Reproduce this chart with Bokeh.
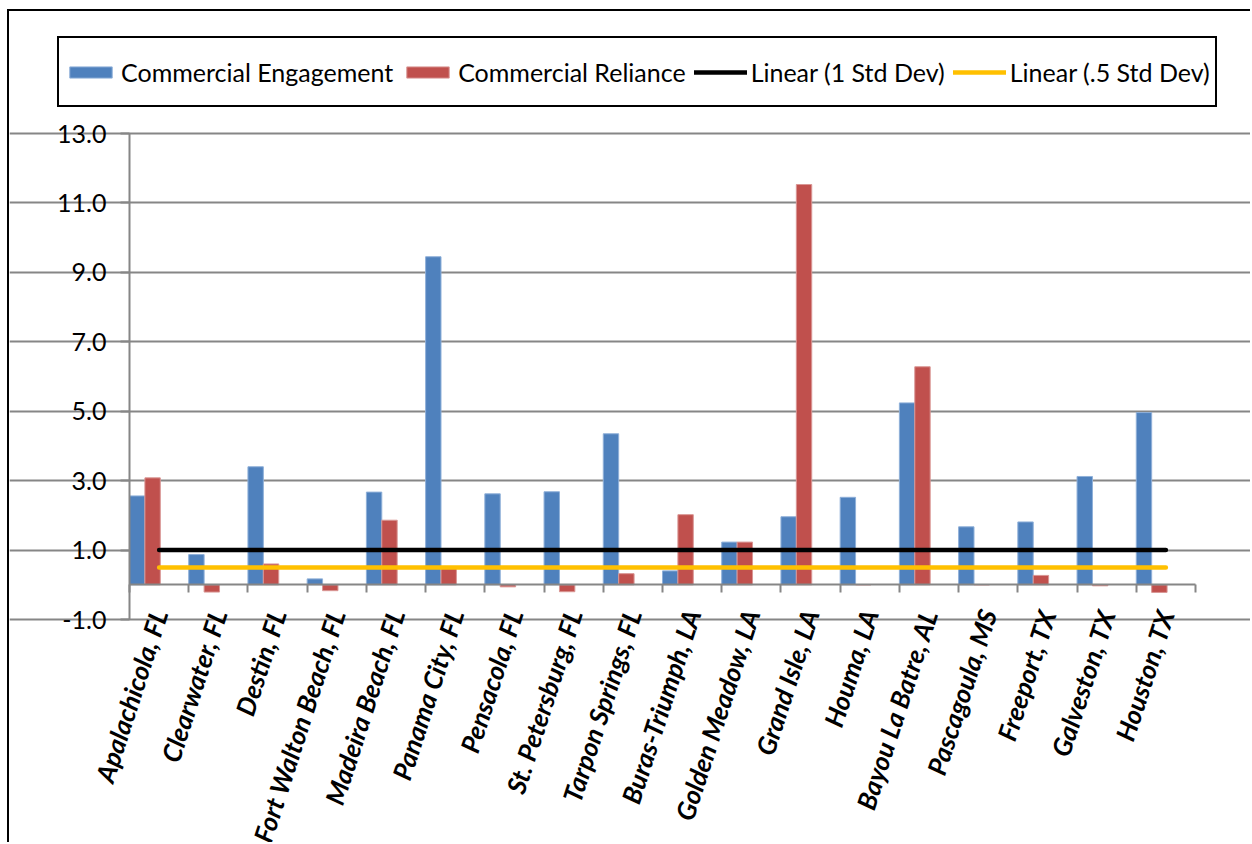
import math
from bokeh.plotting import figure
from bokeh.core.properties import value
from bokeh.models import (ColumnDataSource, Range1d, LinearAxis, FixedTicker, Grid,
                          PrintfTickFormatter, Legend, LegendItem, LabelSet)
from bokeh.transform import dodge
from bokeh.embed import file_html
from bokeh.resources import INLINE

cities = ["Apalachicola, FL", "Clearwater, FL", "Destin, FL", "Fort Walton Beach, FL",
          "Madeira Beach, FL", "Panama City, FL", "Pensacola, FL", "St. Petersburg, FL",
          "Tarpon Springs, FL", "Buras-Triumph, LA", "Golden Meadow, LA", "Grand Isle, LA",
          "Houma, LA", "Bayou La Batre, AL", "Pascagoula, MS", "Freeport, TX",
          "Galveston, TX", "Houston, TX"]
engagement = [2.56, 0.87, 3.40, 0.17, 2.67, 9.45, 2.62, 2.68, 4.35, 0.40, 1.23, 1.96,
              2.52, 5.24, 1.67, 1.81, 3.12, 4.96]
reliance = [3.08, -0.21, 0.60, -0.17, 1.86, 0.52, -0.06, -0.20, 0.32, 2.02, 1.23, 11.53,
            0.0, 6.28, 0.0, 0.27, -0.03, -0.22]
std1 = [1.0] * len(cities)
std_half = [0.5] * len(cities)
y_ticks = [-1, 1, 3, 5, 7, 9, 11, 13]
Y_MIN, Y_MAX = -1, 13

FONT = "Lato"
BLUE = "#4F81BD"
RED = "#C0504D"
GOLD = "#FFC000"
GRID = "#868686"

# Layout (pixels): canvas size and where the value area sits inside it
W, H = 1243, 833
AREA_L, AREA_R, AREA_T, AREA_B = 120, 1186, 122, 608

n = len(cities)
px_x = (AREA_R - AREA_L) / n
px_y = (AREA_B - AREA_T) / (Y_MAX - Y_MIN)
x_range = Range1d(-AREA_L / px_x, n + (W - AREA_R) / px_x)
y_range = Range1d(Y_MIN - (H - AREA_B) / px_y, Y_MAX + AREA_T / px_y)

src = ColumnDataSource(dict(slot=list(range(n)), cat=cities, eng=engagement, rel=reliance,
                            s1=std1, s5=std_half, ybase=[float(Y_MIN)] * n))

p = figure(width=W, height=H, x_range=x_range, y_range=y_range,
           x_axis_location=None, y_axis_location=None, output_backend="svg",
           toolbar_location=None, min_border_left=0, min_border_right=0,
           min_border_top=0, min_border_bottom=0)
p.outline_line_color = None
p.background_fill_color = "white"
p.border_fill_color = "white"
p.grid.visible = False
p.styles = {"margin-left": "7px", "margin-top": "9px",
            "border-left": "2px solid black", "border-top": "2px solid black"}

# Horizontal gridlines
grid = Grid(dimension=1, ticker=FixedTicker(ticks=y_ticks), bounds=(0, n),
            grid_line_color=GRID, grid_line_width=2)
p.add_layout(grid)

# Y axis
ya = LinearAxis(fixed_location=0, bounds=(Y_MIN, Y_MAX), ticker=FixedTicker(ticks=y_ticks),
                formatter=PrintfTickFormatter(format="%.1f"))
ya.axis_line_color = GRID
ya.axis_line_width = 2
ya.major_tick_line_color = GRID
ya.major_tick_line_width = 2
ya.major_tick_out = 9
ya.major_tick_in = 0
ya.minor_tick_line_color = None
ya.major_label_text_font = FONT
ya.major_label_text_font_size = "25px"
ya.major_label_text_color = "black"
ya.major_label_standoff = 14
p.add_layout(ya, "left")

# Category axis crossing at zero
zax = LinearAxis(fixed_location=0, bounds=(0, n), ticker=FixedTicker(ticks=list(range(n + 1))))
zax.axis_line_color = GRID
zax.axis_line_width = 2
zax.major_tick_line_color = GRID
zax.major_tick_line_width = 2
zax.major_tick_out = 8
zax.major_tick_in = 0
zax.minor_tick_line_color = None
zax.major_label_text_font_size = "0px"
zax.major_label_text_alpha = 0
p.add_layout(zax, "below")

# Bars
r_eng = p.vbar(x=dodge("slot", 0.13), top="eng", bottom=0, width=0.26,
               source=src, fill_color=BLUE, line_color="#8FB0D9", line_width=1)
r_rel = p.vbar(x=dodge("slot", 0.39), top="rel", bottom=0, width=0.26,
               source=src, fill_color=RED, line_color="#D99694", line_width=1)

# Lines
r_s1 = p.line(x=dodge("slot", 0.5), y="s1", source=src, line_color="black",
              line_width=4.5, line_cap="round")
r_s5 = p.line(x=dodge("slot", 0.5), y="s5", source=src, line_color=GOLD,
              line_width=4.5, line_cap="round")

# Category labels
labels = LabelSet(x=dodge("slot", 0.5), y="ybase", text="cat", source=src,
                  angle=math.radians(72), text_align="right", text_baseline="middle",
                  x_offset=0, y_offset=9, text_font=value(FONT),
                  text_font_size=value("26px"), text_font_style=value("bold italic"),
                  text_color=value("black"))
p.add_layout(labels)

# Legend
legend = Legend(items=[LegendItem(label="Commercial Engagement", renderers=[r_eng]),
                       LegendItem(label="Commercial Reliance", renderers=[r_rel]),
                       LegendItem(label="Linear (1 Std Dev)", renderers=[r_s1]),
                       LegendItem(label="Linear (.5 Std Dev)", renderers=[r_s5])],
                orientation="horizontal", location=(48, H - 96))
legend.glyph_width = 53
legend.glyph_height = 14
legend.label_standoff = 4
legend.spacing = 8
legend.padding = 5
legend.margin = 0
legend.label_height = 57
legend.label_text_font = FONT
legend.label_text_font_size = "25px"
legend.label_text_color = "black"
legend.border_line_color = "black"
legend.border_line_width = 2
legend.border_line_alpha = 1
legend.background_fill_color = "white"
legend.background_fill_alpha = 1
p.add_layout(legend)

open("out.html", "w").write(file_html(p, INLINE))
